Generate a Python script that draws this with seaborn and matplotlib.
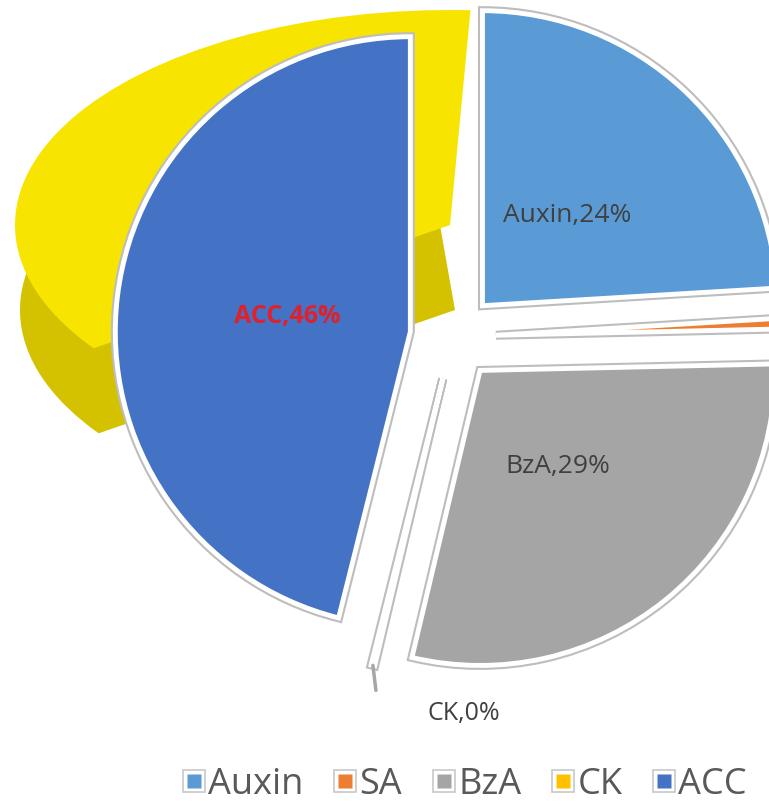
import matplotlib
matplotlib.use("Agg")
import seaborn as sns
import matplotlib.pyplot as plt
import numpy as np
from matplotlib.patches import Wedge
from matplotlib.lines import Line2D
from matplotlib.legend_handler import HandlerTuple
from matplotlib.transforms import Affine2D
import matplotlib.patheffects as pe

# data
hormones = ["Auxin", "SA", "BzA", "CK", "ACC"]
shares = [24, 0.6, 29, 0.2, 46]
colors = ["#5b9bd5", "#ed7d31", "#a5a5a5", "#ffc000", "#4472c4"]
show_label = [True, False, True, True, True]

sns.set_theme(style="white")
plt.rcParams['font.family'] = ['Open Sans', 'DejaVu Sans']

W, H = 769, 808
fig = plt.figure(figsize=(W / 100, H / 100), dpi=100)
ax = fig.add_axes([0, 0, 1, 1])

cx, cy, r, gap = 453, H - 337, 295, 43

# yellow 3d body of the CK slice (as excel drew it)
ex, ey, sx, sy = 450, H - 225, 435, 215
side = Wedge((0, 0), 1, 95, 215, facecolor="#d4c200", edgecolor="none", zorder=0,
             transform=Affine2D().scale(sx, sy).translate(ex + 5, ey - 85) + ax.transData)
top = Wedge((0, 0), 1, 87.3, 215, facecolor="#f7e400", edgecolor="none", zorder=0.5,
            transform=Affine2D().scale(sx, sy).translate(ex, ey) + ax.transData)
ax.add_patch(side)
ax.add_patch(top)

total = sum(shares)
wedges, _, autotexts = ax.pie(
    shares, colors=colors, startangle=90, counterclock=False,
    explode=[gap] * len(shares), radius=r, center=(cx, cy),
    autopct=lambda p: "", pctdistance=0.42,
    wedgeprops=dict(edgecolor="white", linewidth=3.5),
)
for w in wedges:
    w.set_path_effects([pe.Stroke(linewidth=6.5, foreground="#bdbdbd"), pe.Normal()])

for w, t, name, val, show in zip(wedges, autotexts, hormones, shares, show_label):
    pct = 100 * val / total
    t.set_text(f"{name},{pct:.0f}%" if show else "")
    t.set_fontsize(19)
    t.set_color("#404040")
    if name == "ACC":
        t.set_color("#e0202a")
        t.set_fontweight("bold")
        t.set_fontsize(18)
    if name == "CK":
        # label sits outside, below the slice tip
        th = np.deg2rad((w.theta1 + w.theta2) / 2)
        tx, ty = w.center[0] + r * np.cos(th), w.center[1] + r * np.sin(th)
        ax.plot([tx, tx + 3], [ty, ty - 25], color="#a6a6a6", lw=2.5, zorder=3)
        t.set_position((tx + 91, ty - 48))
        t.set_fontsize(18)

ax.set_xlim(0, W)
ax.set_ylim(0, H)
ax.set_aspect("auto")
ax.axis("off")

handles = []
for c in colors:
    outer = Line2D([], [], marker="s", ls="", markersize=16, markerfacecolor="white",
                   markeredgecolor="#c8c8c8", markeredgewidth=1.2)
    inner = Line2D([], [], marker="s", ls="", markersize=10, markerfacecolor=c,
                   markeredgecolor="none")
    handles.append((outer, inner))
leg = fig.legend(handles, hormones, handler_map={tuple: HandlerTuple(ndivide=1)},
                 loc="center", bbox_to_anchor=((185 + 745) / 2 / W, 1 - 785 / H),
                 ncol=5, frameon=False, fontsize=26, handlelength=0.6,
                 handletextpad=0.1, columnspacing=0.85, borderpad=0)
for t in leg.get_texts():
    t.set_color("#595959")

fig.savefig("out.png", dpi=100)
